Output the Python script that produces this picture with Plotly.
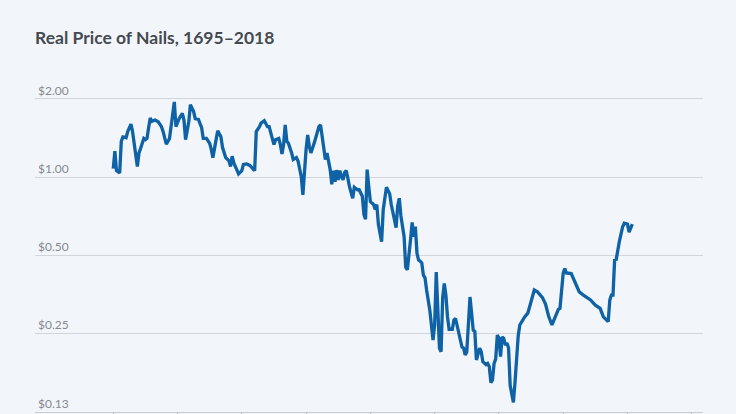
import math
import plotly.graph_objects as go

years = [1695, 1696, 1697, 1699, 1700, 1701, 1703, 1704, 1706, 1707,
         1710, 1711, 1712, 1713, 1714, 1715, 1716, 1717, 1718, 1719,
         1721, 1723, 1725, 1726, 1727, 1728, 1730, 1731, 1733, 1734,
         1735, 1736, 1738, 1739, 1740, 1742, 1743, 1745, 1746, 1748,
         1750, 1751, 1753, 1755, 1756, 1757, 1759, 1760, 1762, 1763,
         1765, 1767, 1768, 1769, 1770, 1772, 1773, 1775, 1776, 1778,
         1780, 1783, 1784, 1786, 1787, 1789, 1791, 1792, 1794, 1795,
         1796, 1798, 1799, 1800, 1801, 1802, 1803, 1804, 1806, 1807,
         1809, 1810, 1812, 1813, 1815, 1816, 1817, 1818, 1820, 1821,
         1823, 1824, 1825, 1826, 1827, 1828, 1830, 1831, 1832, 1833,
         1834, 1835, 1836, 1837, 1838, 1839, 1840, 1841, 1842, 1844,
         1845, 1847, 1848, 1850, 1851, 1852, 1853, 1854, 1855, 1857,
         1858, 1859, 1860, 1862, 1863, 1865, 1866, 1867, 1868, 1870,
         1871, 1872, 1873, 1874, 1876, 1877, 1878, 1880, 1881, 1882,
         1883, 1884, 1885, 1886, 1887, 1888, 1889, 1890, 1892, 1894,
         1895, 1896, 1897, 1898, 1899, 1900, 1901, 1902, 1903, 1904,
         1906, 1907, 1908, 1909, 1911, 1912, 1913, 1914, 1915, 1917,
         1918, 1919, 1920, 1921, 1923, 1924, 1925, 1927, 1928, 1929,
         1930, 1931, 1932, 1933, 1934, 1935, 1936, 1937, 1938, 1939,
         1940, 1941, 1942, 1944, 1945, 1946, 1947, 1948, 1949, 1951,
         1953, 1955, 1957, 1959, 1962, 1964, 1966, 1968, 1970, 1972,
         1973, 1975, 1976, 1977, 1980, 1982, 1985, 1988, 1992, 1995,
         1998, 2000, 2003, 2004, 2005, 2006, 2007, 2008, 2009, 2010,
         2012, 2013, 2015, 2016, 2018]

price = [1.08, 1.26, 1.06, 1.04, 1.375, 1.43, 1.42, 1.50, 1.60, 1.50,
         1.10, 1.24, 1.29, 1.35, 1.41, 1.395, 1.41, 1.55, 1.69, 1.64,
         1.66, 1.635, 1.565, 1.50, 1.41, 1.34, 1.41, 1.55, 1.95, 1.565,
         1.635, 1.68, 1.76, 1.66, 1.395, 1.635, 1.90, 1.79, 1.68, 1.67,
         1.55, 1.41, 1.41, 1.35, 1.28, 1.19, 1.395, 1.51, 1.43, 1.30,
         1.19, 1.155, 1.10, 1.205, 1.135, 1.07, 1.03, 1.06, 1.12, 1.125,
         1.11, 1.06, 1.50, 1.565, 1.615, 1.65, 1.565, 1.565, 1.41, 1.335,
         1.395, 1.41, 1.335, 1.23, 1.335, 1.59, 1.375, 1.35, 1.24, 1.17,
         1.19, 1.155, 1.005, 0.855, 1.28, 1.455, 1.315, 1.24, 1.35, 1.41,
         1.565, 1.59, 1.43, 1.24, 1.17, 1.24, 1.07, 0.94, 1.06, 0.96,
         1.065, 0.977, 1.06, 1.005, 0.977, 1.045, 1.06, 0.99, 0.92, 0.83,
         0.915, 0.895, 0.895, 0.845, 0.718, 0.69, 1.07, 0.92, 0.805, 0.785,
         0.751, 0.785, 0.657, 0.565, 0.751, 0.915, 0.88, 0.864, 0.785, 0.67,
         0.64, 0.775, 0.83, 0.71, 0.59, 0.45, 0.44, 0.575, 0.67, 0.59,
         0.645, 0.51, 0.48, 0.475, 0.468, 0.42, 0.41, 0.368, 0.308, 0.236,
         0.27, 0.432, 0.325, 0.22, 0.213, 0.345, 0.39, 0.352, 0.29, 0.26,
         0.26, 0.282, 0.286, 0.266, 0.238, 0.222, 0.22, 0.207, 0.213, 0.346,
         0.30, 0.258, 0.255, 0.198, 0.22, 0.213, 0.195, 0.19, 0.192, 0.187,
         0.162, 0.166, 0.192, 0.20, 0.247, 0.24, 0.204, 0.243, 0.24, 0.226,
         0.23, 0.22, 0.158, 0.136, 0.162, 0.21, 0.245, 0.27, 0.278, 0.29,
         0.30, 0.33, 0.368, 0.362, 0.345, 0.325, 0.291, 0.27, 0.288, 0.31,
         0.313, 0.428, 0.445, 0.428, 0.426, 0.398, 0.362, 0.35, 0.337, 0.322,
         0.313, 0.29, 0.278, 0.337, 0.352, 0.352, 0.48, 0.483, 0.526, 0.568,
         0.645, 0.665, 0.66, 0.615, 0.66]

y_tick_vals = [0.125, 0.25, 0.5, 1.0, 2.0]
y_tick_text = ["$0.13", "$0.25", "$0.50", "$1.00", "$2.00"]
x_tick_start = 1695
x_tick_step = 40

title_text = "Real Price of Nails, 1695\u20132018"

bg = "#f2f6fb"
fig = go.Figure()
fig.add_trace(go.Scatter(
    x=years, y=price, mode="lines",
    line=dict(color="#0e62a5", width=3.3),
    hoverinfo="x+y",
))

fig.update_layout(
    width=736, height=414,
    paper_bgcolor=bg, plot_bgcolor=bg,
    margin=dict(l=35, r=33, t=70, b=2, autoexpand=False),
    showlegend=False,
    title=dict(
        text=title_text, x=35 / 736, xanchor="left", xref="container",
        y=(414 - 44) / 414, yanchor="bottom", yref="container",
        font=dict(family="Lato", size=17.5, color="#454a50", weight=700),
    ),
    font=dict(family="Lato"),
)

fig.update_xaxes(
    range=[1646.3, 2062], showgrid=False, zeroline=False, automargin=False,
    showline=True, linecolor="#c9cdd3", linewidth=1,
    ticks="outside", ticklen=6, tickcolor="#b5b9bf", tickwidth=1,
    tick0=x_tick_start, dtick=x_tick_step, showticklabels=False,
)
fig.update_yaxes(
    type="log", range=[math.log10(0.1249), 0.4126], automargin=False,
    tickvals=y_tick_vals, ticktext=y_tick_text,
    ticklabelposition="inside top", ticklabelstandoff=0,
    tickfont=dict(family="Lato", size=12, color="#85898f"),
    showgrid=True, gridcolor="#d2d5da", gridwidth=1.2,
    zeroline=False, showline=False, ticks="",
)

fig.write_html(
    "out.html",
    config={"displayModeBar": False},
    post_script="document.body.style.margin='0';document.body.style.overflow='hidden';",
)
